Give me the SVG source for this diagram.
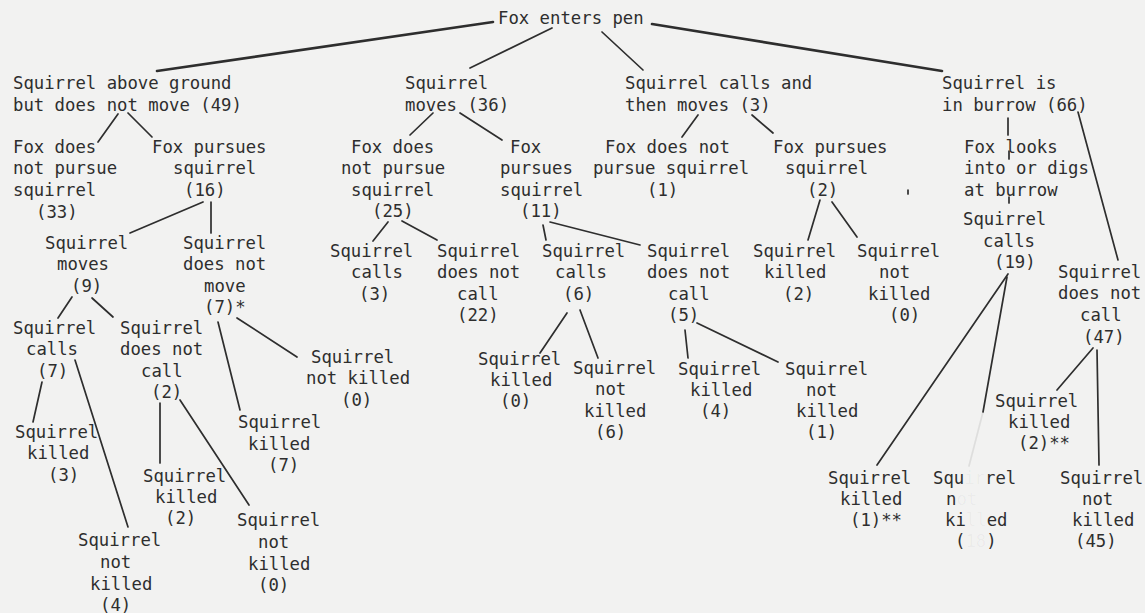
<svg xmlns="http://www.w3.org/2000/svg" width="1145" height="613" viewBox="0 0 1145 613">
  <style>
    text { font-family: "DejaVu Sans Mono", "Liberation Mono", monospace; font-size: 17.3px; fill: #2e2e2e; }
    .faint { fill: #2e2e2e; fill-opacity: 0.04; }
    .edge { stroke: #2e2e2e; stroke-width: 1.7; fill: none; stroke-linecap: round; }
    .main { stroke-width: 2.6; }
    .fade { stroke-opacity: 0.1; }
  </style>
  <rect width="1145" height="613" fill="#f2f2f1"/>

  <!-- connectors -->
  <g id="connectors">
    <line class="edge main" x1="493" y1="22" x2="157" y2="71"/>
    <line class="edge" x1="552" y1="28" x2="470" y2="68"/>
    <line class="edge" x1="602" y1="32" x2="643" y2="70"/>
    <line class="edge main" x1="652" y1="24" x2="942" y2="71"/>

    <line class="edge" x1="118" y1="114" x2="98" y2="142"/>
    <line class="edge" x1="128" y1="113" x2="152" y2="137"/>
    <line class="edge" x1="433" y1="113" x2="410" y2="135"/>
    <line class="edge" x1="460" y1="113" x2="502" y2="140"/>
    <line class="edge" x1="698" y1="115" x2="682" y2="137"/>
    <line class="edge" x1="752" y1="115" x2="773" y2="133"/>
    <line class="edge" x1="1008" y1="118" x2="1008" y2="135"/>
    <line class="edge" x1="1009" y1="151" x2="1009" y2="159"/>
    <line class="edge" x1="1078" y1="112" x2="1118" y2="260"/>

    <line class="edge" x1="203" y1="202" x2="130" y2="233"/>
    <line class="edge" x1="211" y1="202" x2="211" y2="233"/>
    <line class="edge" x1="388" y1="222" x2="373" y2="241"/>
    <line class="edge" x1="402" y1="221" x2="437" y2="240"/>
    <line class="edge" x1="543" y1="225" x2="546" y2="240"/>
    <line class="edge" x1="550" y1="222" x2="640" y2="245"/>
    <line class="edge" x1="820" y1="200" x2="808" y2="240"/>
    <line class="edge" x1="832" y1="202" x2="857" y2="237"/>
    <line class="edge" x1="1009" y1="197" x2="1009" y2="203"/>
    <line class="edge" x1="908" y1="190" x2="908" y2="194"/>

    <line class="edge" x1="72" y1="297" x2="58" y2="318"/>
    <line class="edge" x1="92" y1="298" x2="113" y2="317"/>
    <line class="edge" x1="218" y1="322" x2="240" y2="410"/>
    <line class="edge" x1="237" y1="318" x2="297" y2="357"/>
    <line class="edge" x1="567" y1="313" x2="540" y2="353"/>
    <line class="edge" x1="580" y1="310" x2="598" y2="358"/>
    <line class="edge" x1="685" y1="330" x2="688" y2="358"/>
    <line class="edge" x1="697" y1="323" x2="778" y2="362"/>
    <line class="edge" x1="1008" y1="274" x2="877" y2="465"/>
    <line class="edge" x1="1007" y1="277" x2="983" y2="412"/>
    <line class="edge fade" x1="983" y1="412" x2="969" y2="466"/>
    <line class="edge" x1="1093" y1="348" x2="1057" y2="390"/>
    <line class="edge" x1="1097" y1="350" x2="1099" y2="465"/>

    <line class="edge" x1="42" y1="382" x2="33" y2="422"/>
    <line class="edge" x1="75" y1="360" x2="128" y2="527"/>
    <line class="edge" x1="160" y1="403" x2="160" y2="463"/>
    <line class="edge" x1="180" y1="400" x2="249" y2="505"/>
  </g>

  <!-- root -->
  <g id="fox-enters"><text x="498" y="24">Fox enters pen</text></g>

  <!-- first split -->
  <g id="sq-above-ground"><text><tspan x="13" y="89">Squirrel above ground</tspan><tspan x="13" y="111">but does not move (49)</tspan></text></g>
  <g id="sq-moves"><text><tspan x="405" y="89">Squirrel</tspan><tspan x="405" y="111">moves (36)</tspan></text></g>
  <g id="sq-calls-moves"><text><tspan x="625" y="89">Squirrel calls and</tspan><tspan x="625" y="111">then moves (3)</tspan></text></g>
  <g id="sq-burrow"><text><tspan x="942" y="89">Squirrel is</tspan><tspan x="942" y="111">in burrow (66)</tspan></text></g>

  <!-- fox reactions -->
  <g id="a-no-pursue"><text><tspan x="13" y="153">Fox does</tspan><tspan x="13" y="174">not pursue</tspan><tspan x="13" y="196">squirrel</tspan><tspan x="36" y="218">(33)</tspan></text></g>
  <g id="a-pursue"><text><tspan x="152" y="153">Fox pursues</tspan><tspan x="173" y="174">squirrel</tspan><tspan x="184" y="196">(16)</tspan></text></g>
  <g id="m-no-pursue"><text><tspan x="351" y="153">Fox does</tspan><tspan x="341" y="174">not pursue</tspan><tspan x="351" y="196">squirrel</tspan><tspan x="372" y="217">(25)</tspan></text></g>
  <g id="m-pursue"><text><tspan x="510" y="153">Fox</tspan><tspan x="500" y="174">pursues</tspan><tspan x="500" y="196">squirrel</tspan><tspan x="520" y="217">(11)</tspan></text></g>
  <g id="c-no-pursue"><text><tspan x="605" y="153">Fox does not</tspan><tspan x="593" y="174">pursue squirrel</tspan><tspan x="647" y="196">(1)</tspan></text></g>
  <g id="c-pursue"><text><tspan x="773" y="153">Fox pursues</tspan><tspan x="785" y="174">squirrel</tspan><tspan x="807" y="196">(2)</tspan></text></g>
  <g id="b-digs"><text><tspan x="964" y="153">Fox looks</tspan><tspan x="964" y="174">into or digs</tspan><tspan x="964" y="196">at burrow</tspan></text></g>

  <!-- squirrel responses -->
  <g id="ap-moves"><text><tspan x="45" y="249">Squirrel</tspan><tspan x="57" y="270">moves</tspan><tspan x="71" y="292">(9)</tspan></text></g>
  <g id="ap-still"><text><tspan x="183" y="249">Squirrel</tspan><tspan x="183" y="270">does not</tspan><tspan x="204" y="292">move</tspan><tspan x="204" y="313">(7)*</tspan></text></g>
  <g id="mn-calls"><text><tspan x="330" y="257">Squirrel</tspan><tspan x="351" y="278">calls</tspan><tspan x="359" y="300">(3)</tspan></text></g>
  <g id="mn-no-call"><text><tspan x="437" y="257">Squirrel</tspan><tspan x="437" y="278">does not</tspan><tspan x="457" y="300">call</tspan><tspan x="457" y="321">(22)</tspan></text></g>
  <g id="mp-calls"><text><tspan x="542" y="257">Squirrel</tspan><tspan x="555" y="278">calls</tspan><tspan x="563" y="300">(6)</tspan></text></g>
  <g id="mp-no-call"><text><tspan x="647" y="257">Squirrel</tspan><tspan x="647" y="278">does not</tspan><tspan x="668" y="300">call</tspan><tspan x="668" y="321">(5)</tspan></text></g>
  <g id="cp-killed"><text><tspan x="753" y="257">Squirrel</tspan><tspan x="764" y="278">killed</tspan><tspan x="783" y="300">(2)</tspan></text></g>
  <g id="cp-not-killed"><text><tspan x="857" y="257">Squirrel</tspan><tspan x="879" y="278">not</tspan><tspan x="868" y="300">killed</tspan><tspan x="889" y="321">(0)</tspan></text></g>
  <g id="bd-calls"><text><tspan x="963" y="225">Squirrel</tspan><tspan x="983" y="247">calls</tspan><tspan x="994" y="268">(19)</tspan></text></g>
  <g id="b-no-call"><text><tspan x="1058" y="278">Squirrel</tspan><tspan x="1058" y="299">does not</tspan><tspan x="1080" y="321">call</tspan><tspan x="1083" y="343">(47)</tspan></text></g>

  <!-- outcomes -->
  <g id="apm-calls"><text><tspan x="13" y="334">Squirrel</tspan><tspan x="26" y="355">calls</tspan><tspan x="37" y="377">(7)</tspan></text></g>
  <g id="apm-no-call"><text><tspan x="120" y="334">Squirrel</tspan><tspan x="120" y="355">does not</tspan><tspan x="141" y="377">call</tspan><tspan x="151" y="398">(2)</tspan></text></g>
  <g id="aps-killed"><text><tspan x="238" y="428">Squirrel</tspan><tspan x="248" y="450">killed</tspan><tspan x="268" y="471">(7)</tspan></text></g>
  <g id="aps-not-killed"><text><tspan x="311" y="363">Squirrel</tspan><tspan x="306" y="384">not killed</tspan><tspan x="341" y="406">(0)</tspan></text></g>
  <g id="mnc-killed"><text><tspan x="478" y="365">Squirrel</tspan><tspan x="490" y="386">killed</tspan><tspan x="500" y="407">(0)</tspan></text></g>
  <g id="mnc-not-killed"><text><tspan x="573" y="374">Squirrel</tspan><tspan x="595" y="395">not</tspan><tspan x="584" y="417">killed</tspan><tspan x="595" y="438">(6)</tspan></text></g>
  <g id="mpn-killed"><text><tspan x="678" y="375">Squirrel</tspan><tspan x="690" y="396">killed</tspan><tspan x="700" y="417">(4)</tspan></text></g>
  <g id="mpn-not-killed"><text><tspan x="785" y="375">Squirrel</tspan><tspan x="806" y="396">not</tspan><tspan x="796" y="417">killed</tspan><tspan x="806" y="438">(1)</tspan></text></g>
  <g id="bc-killed"><text><tspan x="828" y="484">Squirrel</tspan><tspan x="840" y="505">killed</tspan><tspan x="850" y="526">(1)**</tspan></text></g>
  <g id="bc-not-killed"><text><tspan x="933" y="484">Squ<tspan class="faint">ir</tspan>rel</tspan><tspan x="946" y="505">n<tspan class="faint">ot</tspan></tspan><tspan x="945" y="526">ki<tspan class="faint">ll</tspan>ed</tspan><tspan x="955" y="547">(<tspan class="faint">18</tspan>)</tspan></text></g>
  <g id="bn-killed"><text><tspan x="995" y="407">Squirrel</tspan><tspan x="1008" y="428">killed</tspan><tspan x="1018" y="449">(2)**</tspan></text></g>
  <g id="bn-not-killed"><text><tspan x="1060" y="484">Squirrel</tspan><tspan x="1082" y="505">not</tspan><tspan x="1072" y="526">killed</tspan><tspan x="1075" y="547">(45)</tspan></text></g>

  <g id="c7-killed"><text><tspan x="15" y="438">Squirrel</tspan><tspan x="27" y="459">killed</tspan><tspan x="48" y="481">(3)</tspan></text></g>
  <g id="c7-not-killed"><text><tspan x="78" y="546">Squirrel</tspan><tspan x="100" y="568">not</tspan><tspan x="90" y="590">killed</tspan><tspan x="100" y="611">(4)</tspan></text></g>
  <g id="nc2-killed"><text><tspan x="143" y="482">Squirrel</tspan><tspan x="155" y="503">killed</tspan><tspan x="165" y="524">(2)</tspan></text></g>
  <g id="nc2-not-killed"><text><tspan x="237" y="526">Squirrel</tspan><tspan x="258" y="548">not</tspan><tspan x="248" y="570">killed</tspan><tspan x="258" y="591">(0)</tspan></text></g>
</svg>
